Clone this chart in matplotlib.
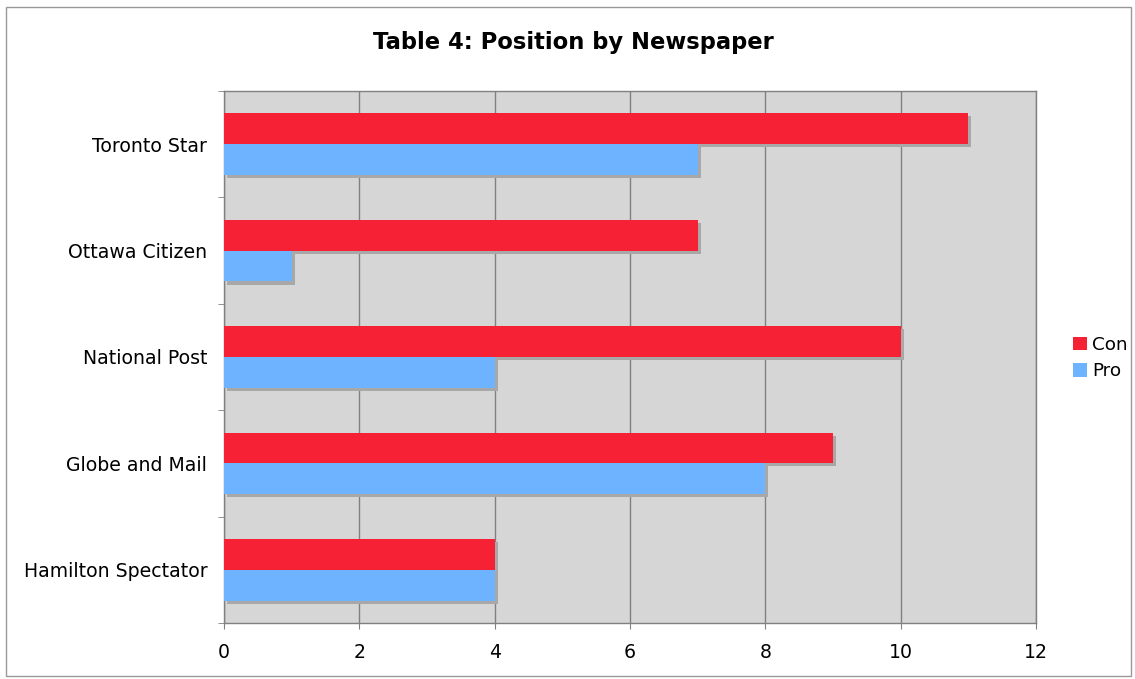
import matplotlib
matplotlib.use("Agg")
import matplotlib.pyplot as plt
import matplotlib.patheffects as pe
from matplotlib.patches import Rectangle, Patch
import numpy as np

categories = ["Toronto Star", "Ottawa Citizen", "National Post", "Globe and Mail", "Hamilton Spectator"]
con = [11, 7, 10, 9, 4]
pro = [7, 1, 4, 8, 4]
xticks = [0, 2, 4, 6, 8, 10, 12]

plt.rcParams['font.family'] = ['DejaVu Sans']

CON_C = '#f72136'
PRO_C = '#6db3ff'

fig = plt.figure(figsize=(11.35, 6.79), dpi=100)
fig.patches.append(Rectangle((6/1135, 1 - 676/679), 1125/1135, 669/679, transform=fig.transFigure,
                             fill=False, edgecolor='#999999', linewidth=1))
ax = fig.add_axes([224/1135, 1 - 623/679, (1036-224)/1135, (623-91)/679])
ax.set_facecolor('#d6d6d6')

y = np.arange(len(categories))[::-1].astype(float)
h = 0.29
shadow = [pe.SimplePatchShadow(offset=(2.2, -2.2), shadow_rgbFace='#a8a8a8', alpha=1.0), pe.Normal()]
b1 = ax.barh(y + h/2, con, height=h, color=CON_C, zorder=3)
b2 = ax.barh(y - h/2, pro, height=h, color=PRO_C, zorder=3)
for b in list(b1) + list(b2):
    b.set_path_effects(shadow)

ax.set_xlim(0, 12)
ax.set_ylim(-0.5, len(categories) - 0.5)
ax.set_xticks(xticks)
ax.set_xticklabels([str(t) for t in xticks], fontsize=13.6)
ax.set_yticks(y)
ax.set_yticklabels(categories, fontsize=13.6)
ax.set_yticks(np.arange(-0.5, len(categories)), minor=True)
ax.tick_params(axis='y', which='major', length=0, pad=12)
ax.tick_params(axis='y', which='minor', length=4.5, color='#808080', direction='out')
ax.tick_params(axis='x', which='major', length=4.5, color='#808080', direction='out', pad=10)
ax.xaxis.grid(True, color='#808080', linewidth=1, zorder=1)
ax.set_axisbelow(True)
for s in ax.spines.values():
    s.set_color('#808080')
    s.set_linewidth(1)

fig.text(573/1135, 1 - 42/679, "Table 4: Position by Newspaper", fontsize=16.3, fontweight='bold',
         ha='center', va='center')

handles = [Patch(facecolor=CON_C, label='Con'), Patch(facecolor=PRO_C, label='Pro')]
fig.legend(handles=handles, loc='center left',
           bbox_to_anchor=(1073/1135, 1 - 358/679), frameon=False, fontsize=13.2,
           handlelength=0.78, handleheight=0.78, handletextpad=0.25, labelspacing=0.45,
           borderaxespad=0, borderpad=0)

fig.savefig("out.png", dpi=100)
